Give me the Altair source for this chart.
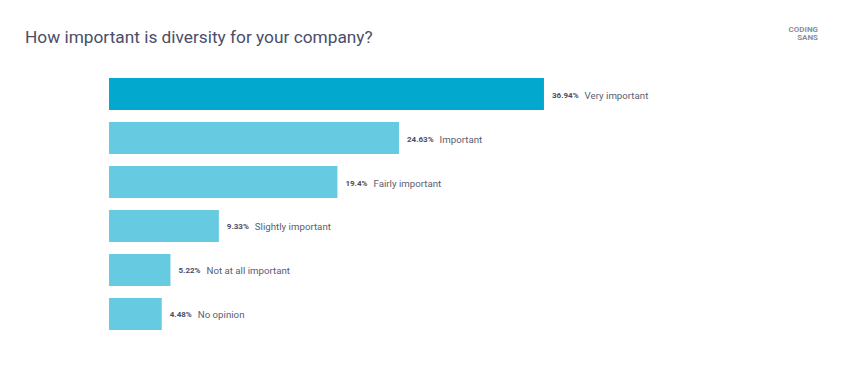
import altair as alt
import pandas as pd

categories = ["Very important", "Important", "Fairly important",
              "Slightly important", "Not at all important", "No opinion"]
values = [36.94, 24.63, 19.4, 9.33, 5.22, 4.48]
pct_labels = ["36.94%", "24.63%", "19.4%", "9.33%", "5.22%", "4.48%"]
highlight = [True, False, False, False, False, False]

df = pd.DataFrame({
    "category": categories,
    "value": values,
    "pct": pct_labels,
    "top": highlight,
})

PX_PER_UNIT = 471 / 40.0

y_enc = alt.Y("category:N", sort=categories, axis=None,
              scale=alt.Scale(paddingInner=0.2727, paddingOuter=0.1364))
x_scale = alt.Scale(domain=[0, 40])

base = alt.Chart(df)

bars = base.mark_bar(cornerRadius=0).encode(
    x=alt.X("value:Q", scale=x_scale, axis=None),
    y=y_enc,
    color=alt.Color("top:N", legend=None,
                    scale=alt.Scale(domain=[True, False],
                                    range=["#02a8cd", "#66cbe0"])),
)

pct_text = base.mark_text(align="left", baseline="middle", dx=8, dy=1.5,
                          font="Roboto", fontSize=8, fontWeight="bold",
                          color="#4b4e66").encode(
    x=alt.X("value:Q", scale=x_scale),
    y=y_enc,
    text="pct:N",
)

cat_text = base.transform_calculate(
    xcat=f"datum.value + (13 + 4.6 * length(datum.pct)) / {PX_PER_UNIT}"
).mark_text(align="left", baseline="middle", dy=1.5,
            font="Roboto", fontSize=9.7, color="#5a5d72").encode(
    x=alt.X("xcat:Q", scale=x_scale),
    y=y_enc,
    text="category:N",
)

logo1 = alt.Chart(pd.DataFrame({"t": ["CODING"]})).mark_text(
    align="right", baseline="middle", font="Roboto", fontSize=8,
    fontWeight="bold", color="#8a8e9c"
).encode(x=alt.value(709), y=alt.value(-42), text="t:N")

logo2 = alt.Chart(pd.DataFrame({"t": ["SANS"]})).mark_text(
    align="right", baseline="middle", font="Roboto", fontSize=8,
    fontWeight="bold", color="#8a8e9c"
).encode(x=alt.value(709), y=alt.value(-34), text="t:N")

chart = alt.layer(bars, pct_text, cat_text, logo1, logo2).properties(
    width=471,
    height=264,
    background="white",
    autosize=alt.AutoSizeParams(type="none"),
    padding={"left": 101, "top": 64, "right": 254, "bottom": 36},
    title=alt.TitleParams(
        "How important is diversity for your company?",
        anchor="start", dx=-84, offset=0, dy=20,
        font="Roboto", fontSize=17.3, fontWeight="normal", color="#4b4e69",
    ),
).configure_view(strokeWidth=0)

chart.save("out.html", embed_options={"renderer": "svg", "actions": False})
